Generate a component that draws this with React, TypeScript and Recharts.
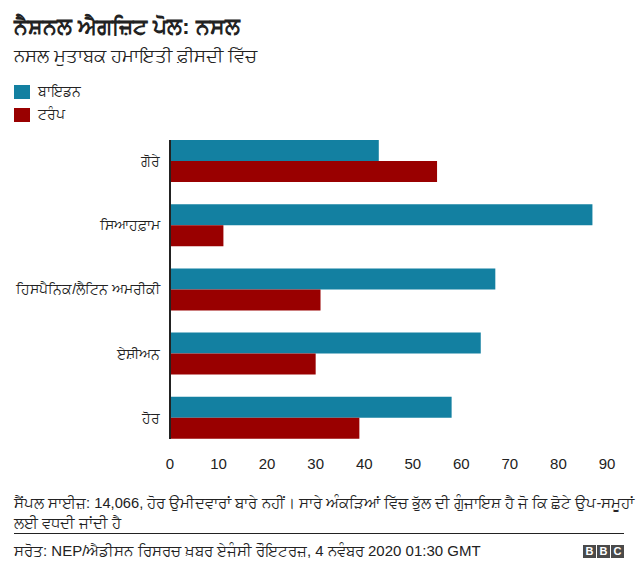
import React from 'react';
import { BarChart, Bar, XAxis, YAxis } from 'recharts';

const categories = ['ਗੋਰੇ', 'ਸਿਆਹਫ਼ਾਮ', 'ਹਿਸਪੈਨਿਕ/ਲੈਟਿਨ ਅਮਰੀਕੀ', 'ਏਸ਼ੀਅਨ', 'ਹੋਰ'];
const bidenValues = [43, 87, 67, 64, 58];
const trumpValues = [55, 11, 31, 30, 39];
const xTicks = [0, 10, 20, 30, 40, 50, 60, 70, 80, 90];
const seriesNames = { biden: 'ਬਾਇਡਨ', trump: 'ਟਰੰਪ' };
const title = 'ਨੈਸ਼ਨਲ ਐਗਜ਼ਿਟ ਪੋਲ: ਨਸਲ';
const subtitle = 'ਨਸਲ ਮੁਤਾਬਕ ਹਮਾਇਤੀ ਫ਼ੀਸਦੀ ਵਿੱਚ';
const noteLine1 = 'ਸੈਂਪਲ ਸਾਈਜ਼: 14,066, ਹੋਰ ਉਮੀਦਵਾਰਾਂ ਬਾਰੇ ਨਹੀਂ। ਸਾਰੇ ਅੰਕੜਿਆਂ ਵਿੱਚ ਭੁੱਲ ਦੀ ਗੁੰਜਾਇਸ਼ ਹੈ ਜੋ ਕਿ ਛੋਟੇ ਉਪ-ਸਮੂਹਾਂ';
const noteLine2 = 'ਲਈ ਵਧਦੀ ਜਾਂਦੀ ਹੈ';
const source = 'ਸਰੋਤ: NEP/ਐਡੀਸਨ ਰਿਸਰਚ ਖ਼ਬਰ ਏਜੰਸੀ ਰੌਇਟਰਜ਼, 4 ਨਵੰਬਰ 2020 01:30 GMT';

const data = categories.map((c, i) => ({ name: c, biden: bidenValues[i], trump: trumpValues[i] }));

const BLUE = '#1380A1';
const RED = '#990000';
const TEXT = '#222222';
const FONT = '"Liberation Sans", Arial, Helvetica, sans-serif';

const CategoryTick = (props: any) => {
  const { x, y, payload } = props;
  return (
    <text x={x} y={y} dy="0.35em" textAnchor="end" fill={TEXT} fontSize={14} fontFamily={FONT}>
      {payload.value}
    </text>
  );
};

export default function App() {
  return (
    <div style={{ position: 'absolute', left: 0, top: 0, width: 640, height: 579, background: '#fff', fontFamily: FONT, color: TEXT, overflow: 'hidden' }}>
      <div style={{ position: 'absolute', left: 14, top: 13, fontSize: 22, fontWeight: 700, lineHeight: '28px', whiteSpace: 'nowrap' }}>{title}</div>
      <div style={{ position: 'absolute', left: 14, top: 44, fontSize: 18.3, lineHeight: '24px', whiteSpace: 'nowrap' }}>{subtitle}</div>

      <div style={{ position: 'absolute', left: 14, top: 84, display: 'flex', alignItems: 'center', height: 15 }}>
        <div style={{ width: 16, height: 14, background: BLUE }} />
        <span style={{ marginLeft: 8, fontSize: 14 }}>{seriesNames.biden}</span>
      </div>
      <div style={{ position: 'absolute', left: 14, top: 107, display: 'flex', alignItems: 'center', height: 15 }}>
        <div style={{ width: 16, height: 14, background: RED }} />
        <span style={{ marginLeft: 8, fontSize: 14 }}>{seriesNames.trump}</span>
      </div>

      <div style={{ position: 'absolute', left: 0, top: 0 }}>
        <BarChart
          width={640}
          height={480}
          data={data}
          layout="vertical"
          margin={{ top: 140, right: 33, bottom: 11, left: 10 }}
          barGap={0}
          barSize={21}
        >
          <XAxis
            type="number"
            domain={[0, 90]}
            ticks={xTicks}
            axisLine={false}
            tickLine={false}
            tickMargin={13}
            height={30}
            tick={{ fill: TEXT, fontSize: 15, fontFamily: FONT }}
            interval={0}
          />
          <YAxis
            type="category"
            dataKey="name"
            width={160}
            axisLine={{ stroke: TEXT, strokeWidth: 2 }}
            tickLine={false}
            tickMargin={4}
            padding={{ top: -11, bottom: -11 }}
            tick={<CategoryTick />}
            interval={0}
          />
          <Bar dataKey="biden" name={seriesNames.biden} fill={BLUE} isAnimationActive={false} />
          <Bar dataKey="trump" name={seriesNames.trump} fill={RED} isAnimationActive={false} />
        </BarChart>
      </div>

      <div style={{ position: 'absolute', left: 14, top: 493, fontSize: 14.7, lineHeight: '20px', whiteSpace: 'nowrap' }}>
        {noteLine1}
        <br />
        {noteLine2}
      </div>
      <div style={{ position: 'absolute', left: 14, top: 533, width: 610, height: 1, background: TEXT }} />
      <div style={{ position: 'absolute', left: 14, top: 541, fontSize: 15, lineHeight: '20px', whiteSpace: 'nowrap' }}>{source}</div>
      <div style={{ position: 'absolute', left: 583, top: 545, display: 'flex' }}>
        {['B', 'B', 'C'].map((l, i) => (
          <div key={i} style={{ width: 13, height: 13, marginLeft: i ? 1 : 0, background: '#4a4a4a', color: '#fff', fontSize: 11, fontWeight: 700, lineHeight: '13px', textAlign: 'center' }}>{l}</div>
        ))}
      </div>
    </div>
  );
}
